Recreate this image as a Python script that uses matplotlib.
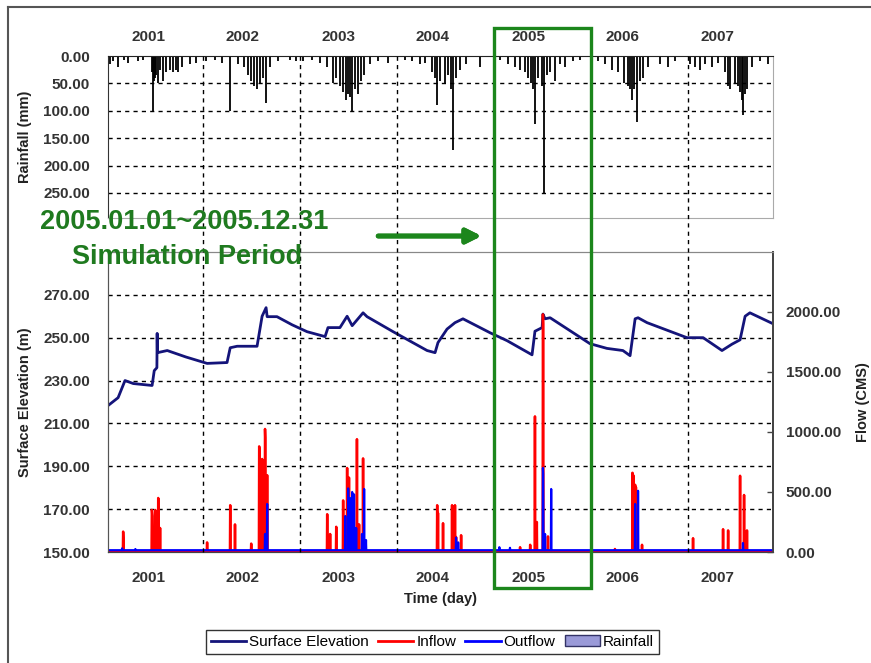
import numpy as np
import matplotlib.pyplot as plt
from matplotlib import transforms
from matplotlib.lines import Line2D
from matplotlib.patches import Patch, Rectangle

plt.rcParams['font.family'] = ['Liberation Sans', 'DejaVu Sans']

# x axis in days counted from 2001-01-01
n_days = 2511
year_start = [365, 730, 1095, 1461, 1826, 2191]
year_label_pos = [158, 515, 873, 1227, 1588, 1945, 2300]
year_labels = ['2001', '2002', '2003', '2004', '2005', '2006', '2007']

# surface elevation (m)
elev_day = [8, 45, 71, 102, 173, 181, 191, 192, 193, 230, 300, 380, 455, 467, 493, 568,
            587, 602, 606, 643, 700, 756, 824, 835, 880, 907, 926, 967, 982, 1080, 1208,
            1238, 1249, 1283, 1313, 1343, 1445, 1509, 1603, 1614, 1641, 1644, 1652, 1671,
            1821, 1885, 1945, 1972, 1991, 2002, 2036, 2186, 2247, 2318, 2356, 2386, 2405,
            2423, 2510]
elev_m = [218.4, 222.0, 230.0, 228.6, 227.7, 234.6, 236.0, 252.0, 243.0, 244.0, 241.0, 238.0,
          238.4, 245.3, 246.0, 246.0, 260.0, 264.0, 259.8, 259.8, 256.0, 252.8, 250.5, 254.7,
          254.7, 260.0, 255.6, 261.6, 259.8, 252.8, 244.0, 243.0, 247.7, 254.0, 257.0, 258.8,
          252.3, 248.6, 242.0, 253.0, 254.7, 261.0, 258.8, 259.3, 247.2, 245.0, 244.0, 241.6,
          258.8, 259.3, 257.0, 250.0, 250.0, 244.0, 247.0, 249.0, 260.0, 261.6, 256.5]

# daily rainfall (mm)
rain_day = [15, 26, 45, 68, 83, 120, 140, 173, 177, 181, 184, 188, 196, 203, 214, 226, 241,
            252, 263, 271, 286, 316, 339, 376, 410, 437, 467, 497, 519, 534, 546, 557, 568,
            580, 591, 602, 617, 647, 692, 715, 741, 775, 805, 832, 854, 866, 880, 892, 903,
            911, 918, 926, 937, 948, 960, 971, 993, 1024, 1061, 1125, 1151, 1182, 1200, 1227,
            1238, 1246, 1257, 1276, 1287, 1298, 1306, 1317, 1332, 1355, 1407, 1464, 1483, 1513,
            1539, 1558, 1577, 1588, 1599, 1607, 1614, 1625, 1641, 1648, 1660, 1671, 1690, 1708,
            1727, 1757, 1784, 1851, 1878, 1904, 1927, 1949, 1964, 1972, 1979, 1987, 1998, 2009,
            2021, 2040, 2085, 2115, 2141, 2198, 2217, 2236, 2254, 2281, 2304, 2330, 2341, 2349,
            2367, 2379, 2386, 2394, 2397, 2405, 2412, 2431, 2461, 2491]
rain_mm = [15, 10, 20, 8, 12, 10, 8, 30, 100, 45, 40, 35, 50, 25, 45, 30, 25,
           30, 25, 30, 20, 15, 12, 10, 8, 12, 100, 15, 20, 35, 45, 55, 60,
           50, 40, 85, 20, 10, 8, 10, 10, 8, 12, 20, 50, 40, 55, 65, 80,
           70, 75, 100, 60, 70, 45, 35, 15, 10, 12, 8, 10, 15, 12, 30,
           40, 90, 45, 50, 35, 60, 172, 40, 25, 15, 20, 10, 8, 15,
           20, 25, 30, 40, 50, 60, 125, 40, 55, 250, 35, 30, 45, 15,
           20, 10, 8, 10, 15, 25, 30, 50, 55, 60, 80, 60, 120, 45,
           40, 20, 15, 20, 10, 15, 20, 25, 15, 20, 12, 30, 55, 60,
           50, 55, 65, 80, 108, 70, 60, 20, 10, 15]

# inflow / outflow peaks (CMS)
inflow_day = [64, 65, 172, 173, 174, 184, 185, 196, 197, 203, 380, 467, 485, 546, 576, 577,
              587, 598, 599, 606, 832, 843, 866, 892, 907, 914, 944, 952, 967, 1246, 1249,
              1268, 1302, 1305, 1313, 1317, 1336, 1558, 1596, 1614, 1621, 1644, 1645, 1663,
              1915, 1981, 1984, 1991, 1994, 2017, 2209, 2322, 2341, 2386, 2401, 2412]
inflow_cms = [170, 120, 350, 340, 300, 300, 350, 450, 420, 200, 80, 390, 230, 70, 880, 850,
              775, 1025, 950, 640, 315, 150, 210, 430, 700, 620, 940, 230, 780, 390, 325,
              240, 390, 380, 390, 125, 140, 40, 60, 1130, 250, 1980, 1900, 130,
              25, 660, 640, 560, 540, 60, 115, 190, 180, 635, 475, 180]
outflow_day = [60, 110, 598, 606, 900, 911, 918, 926, 933, 941, 963, 971, 978, 1317, 1325,
               1480, 1520, 1644, 1645, 1652, 1675, 1991, 2002, 2397]
outflow_cms = [30, 25, 150, 400, 300, 530, 450, 500, 480, 200, 150, 525, 100, 120, 80,
               40, 35, 700, 650, 150, 525, 400, 510, 75]
inflow_base = 5
outflow_base = 15

inflow = np.full(n_days, inflow_base, dtype=float)
inflow[inflow_day] = inflow_cms
outflow = np.full(n_days, outflow_base, dtype=float)
outflow[outflow_day] = outflow_cms
days = np.arange(n_days)

fig = plt.figure(figsize=(8.71, 6.63), dpi=100)
ax_r = fig.add_axes([0.124, 0.671, 0.7635, 0.2445])
ax = fig.add_axes([0.124, 0.1674, 0.7635, 0.4526])
ax_f = ax.twinx()

tick_font = dict(fontsize=11, fontweight='bold', color='#333333')
lab_font = dict(fontsize=10.5, fontweight='bold', color='#222222')
grid_kw = dict(color='black', linestyle=(0, (3, 3)), linewidth=1)

# ---- rainfall panel
ax_r.vlines(rain_day, 0, rain_mm, color='black', linewidth=1.3)
ax_r.set_xlim(7, 2510)
ax_r.set_ylim(296, 0)
ax_r.set_yticks([0, 50, 100, 150, 200, 250])
ax_r.set_yticklabels(['%.2f' % v for v in [0, 50, 100, 150, 200, 250]], **tick_font)
for v in [50, 100, 150, 200, 250]:
    ax_r.axhline(v, **grid_kw, zorder=0)
ax_r.xaxis.tick_top()
ax_r.set_xticks(year_start)
ax_r.set_xticklabels([])
ax_r.set_xticks(year_label_pos, minor=True)
ax_r.set_xticklabels(year_labels, minor=True, **tick_font)
ax_r.tick_params(axis='both', which='both', length=0)
ax_r.tick_params(axis='x', which='minor', pad=9)
ax_r.tick_params(axis='y', pad=13)
ax_r.set_ylabel('Rainfall (mm)', labelpad=8, **lab_font)
ax_r.spines['left'].set_color('#333333')
ax_r.spines['top'].set_color('#222222')
ax_r.spines['right'].set_color('#aaaaaa')
ax_r.spines['bottom'].set_color('#aaaaaa')

# ---- elevation / flow panel
ax.plot(elev_day, elev_m, color='#14147a', linewidth=2)
ax.set_xlim(7, 2510)
ax.set_ylim(150, 290)
elev_ticks = [150, 170, 190, 210, 230, 250, 270]
ax.set_yticks(elev_ticks)
ax.set_yticklabels(['%.2f' % v for v in elev_ticks], **tick_font)
for v in elev_ticks[1:]:
    ax.axhline(v, **grid_kw, zorder=0)
ax.set_xticks(year_start)
ax.set_xticklabels([])
ax.set_xticks(year_label_pos, minor=True)
ax.set_xticklabels(year_labels, minor=True, **tick_font)
ax.tick_params(axis='both', which='both', length=0)
ax.tick_params(axis='x', which='minor', pad=14)
ax.tick_params(axis='y', pad=13)
ax.set_ylabel('Surface Elevation (m)', labelpad=8, **lab_font)
ax.set_xlabel('Time (day)', labelpad=5, **lab_font)

ax_f.plot(days, inflow, color='#ff0000', linewidth=1.8)
ax_f.plot(days, outflow, color='#0000ff', linewidth=1.6)
ax_f.set_ylim(0, 2500)
flow_ticks = [0, 500, 1000, 1500, 2000]
ax_f.set_yticks(flow_ticks)
ax_f.set_yticklabels(['%.2f' % v for v in flow_ticks], **tick_font)
ax_f.tick_params(axis='y', direction='in', length=4, width=1, color='#444444', pad=9)
ax_f.set_ylabel('Flow (CMS)', labelpad=11, **lab_font)
for a in (ax, ax_f):
    a.spines['left'].set_color('#555555')
    a.spines['right'].set_color('#444444')
    a.spines['right'].set_linewidth(1.3)
    a.spines['top'].set_color('#888888')
    a.spines['bottom'].set_color('#444444')

# vertical year gridlines run through both panels
vtrans = transforms.blended_transform_factory(ax.transData, fig.transFigure)
for d in year_start:
    fig.add_artist(Line2D([d, d], [0.1674, 0.9155], transform=vtrans, zorder=0.5, **grid_kw))

# simulation period box, arrow and text
green = '#1c861c'
fig.add_artist(Rectangle((1461, 0.113), 1826 - 1461, 0.958 - 0.113, transform=vtrans,
                         fill=False, edgecolor=green, linewidth=2.4, zorder=5))
fig.text(0.046, 0.665, '2005.01.01~2005.12.31', fontsize=19.5, fontweight='bold',
         color='#1f7a1f', va='center', ha='left')
fig.text(0.083, 0.612, 'Simulation Period', fontsize=19.5, fontweight='bold',
         color='#1f7a1f', va='center', ha='left')
fig.add_artist(plt.annotate('', xy=(0.556, 0.644), xytext=(0.431, 0.644),
                            xycoords='figure fraction', textcoords='figure fraction',
                            arrowprops=dict(arrowstyle='-|>', color=green, lw=3.5,
                                            mutation_scale=22)))

# legend
handles = [Line2D([], [], color='#14147a', linewidth=2),
           Line2D([], [], color='#ff0000', linewidth=2),
           Line2D([], [], color='#0000ff', linewidth=2),
           Patch(facecolor='#9a9ad8', edgecolor='#333366')]
leg = fig.legend(handles, ['Surface Elevation', 'Inflow', 'Outflow', 'Rainfall'],
                 loc='center', bbox_to_anchor=(0.4966, 0.0317), ncol=4, fontsize=11,
                 frameon=True, fancybox=False, handlelength=2.3, handletextpad=0.2,
                 columnspacing=0.6, borderpad=0.35)
leg.get_frame().set_edgecolor('black')
leg.get_frame().set_linewidth(1)

# outer border
fig.add_artist(Line2D([0.0092, 1.0], [0.9894, 0.9894], color='#555555', linewidth=1.5))
fig.add_artist(Line2D([0.0092, 0.0092], [0.0, 0.9894], color='#555555', linewidth=1.5))

fig.savefig('out.png', dpi=100)
